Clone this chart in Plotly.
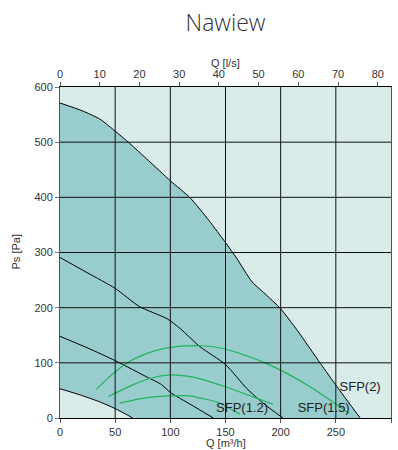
import plotly.graph_objects as go

# ---- data ----
q_max = [0, 20, 36, 50, 63, 80, 100, 118, 135, 150, 160, 174, 187, 200, 215, 236, 251, 272]
p_max = [571, 557, 542, 520, 498, 467, 430, 399, 358, 318, 290, 247, 223, 198, 159, 99, 57, 0]

q_mid = [0, 25, 50, 72, 97, 109, 127, 150, 169, 184, 202]
p_mid = [291, 263, 235, 202, 180, 162, 129, 97, 54, 27, 0]

q_low = [0, 25, 50, 80, 91, 101, 118, 139]
p_low = [148, 127, 104, 73, 62, 45, 25, 0]

q_min = [0, 18, 35, 50, 66]
p_min = [53, 42, 30, 17, 0]

q_sfp2 = [33, 45, 60, 75, 97, 127, 148, 187, 224, 251, 262]
p_sfp2 = [52, 75, 99, 114, 127, 131, 126, 99, 60, 24, 8]

q_sfp15 = [44, 66, 82, 100, 118, 127, 148, 178, 193]
p_sfp15 = [39, 60, 72, 78, 75, 71, 58, 36, 25]

q_sfp12 = [54, 79, 102, 118, 127, 142, 163]
p_sfp12 = [27, 37, 40, 40, 36, 29, 7]

sfp_labels = ["SFP(2)", "SFP(1.5)", "SFP(1.2)"]
sfp_label_q = [272, 239, 165]
sfp_label_p = [55, 16, 16]

x_grid = [50, 100, 150, 200, 250]
y_grid = [100, 200, 300, 400, 500]
x_ticks = [0, 50, 100, 150, 200, 250, 300]
y_ticks = [0, 100, 200, 300, 400, 500, 600]
top_ticks = [0, 10, 20, 30, 40, 50, 60, 70, 80]

X_MAX = 300
Y_MAX = 600

# ---- style ----
LIGHT = "#d9ecea"
DARK = "#99cccc"
GREEN = "#1db35e"
TXT = "#333333"
FONT = "Arial, Liberation Sans, sans-serif"

fig = go.Figure()

fig.add_trace(go.Scatter(x=q_max, y=p_max, mode="lines", fill="tozeroy",
                         fillcolor=DARK, line=dict(color="black", width=1, shape="spline", smoothing=0.6),
                         hoverinfo="skip", showlegend=False))
fig.add_trace(go.Scatter(x=q_min, y=p_min, mode="lines", fill="tozeroy",
                         fillcolor=LIGHT, line=dict(color="black", width=1, shape="spline", smoothing=0.6),
                         hoverinfo="skip", showlegend=False))
for qq, pp in [(q_mid, p_mid), (q_low, p_low)]:
    fig.add_trace(go.Scatter(x=qq, y=pp, mode="lines",
                             line=dict(color="black", width=1, shape="spline", smoothing=0.6),
                             hoverinfo="skip", showlegend=False))
for qq, pp in [(q_sfp2, p_sfp2), (q_sfp15, p_sfp15), (q_sfp12, p_sfp12)]:
    fig.add_trace(go.Scatter(x=qq, y=pp, mode="lines",
                             line=dict(color=GREEN, width=1.2, shape="spline", smoothing=0.8),
                             hoverinfo="skip", showlegend=False))

fig.add_trace(go.Scatter(x=sfp_label_q, y=sfp_label_p, mode="text", text=sfp_labels,
                         textfont=dict(family=FONT, size=13, color="#222222"),
                         textposition="middle center", hoverinfo="skip", showlegend=False))

# invisible trace for top axis (l/s)
fig.add_trace(go.Scatter(x=[0, X_MAX / 3.6], y=[0, 0], xaxis="x2", mode="lines",
                         line=dict(width=0), opacity=0, hoverinfo="skip", showlegend=False))

# gridlines above fills
shapes = []
for gx in x_grid:
    shapes.append(dict(type="line", xref="x", yref="y", x0=gx, x1=gx, y0=0, y1=Y_MAX,
                       line=dict(color="#111111", width=1), layer="above"))
for gy in y_grid:
    shapes.append(dict(type="line", xref="x", yref="y", x0=0, x1=X_MAX, y0=gy, y1=gy,
                       line=dict(color="#111111", width=1), layer="above"))

fig.update_layout(
    width=398, height=450,
    margin=dict(l=60, r=7, t=87, b=32),
    paper_bgcolor="white",
    plot_bgcolor=LIGHT,
    shapes=shapes,
    title=dict(text="Nawiew", x=0.5, xref="paper", xanchor="center", y=1 - 23 / 450, yanchor="middle",
               font=dict(family="Open Sans, sans-serif", size=23, color=TXT, weight=300)),
    xaxis=dict(range=[0, X_MAX], tickvals=x_ticks, ticks="outside", ticklen=4, tickcolor="#555",
               showgrid=False, zeroline=False, showline=True, linecolor="black", linewidth=1,
               tickfont=dict(family=FONT, size=11, color=TXT), layer="above traces"),
    xaxis2=dict(range=[0, X_MAX / 3.6], overlaying="x", side="top", tickvals=top_ticks,
                ticks="outside", ticklen=4, tickcolor="#555", showgrid=False, zeroline=False,
                showline=True, linecolor="black", linewidth=1,
                tickfont=dict(family=FONT, size=11, color=TXT)),
    yaxis=dict(range=[0, Y_MAX], tickvals=y_ticks, ticks="outside", ticklen=4, tickcolor="#777",
               showgrid=False, zeroline=False, showline=True, mirror=True, linecolor="#555", linewidth=1,
               tickfont=dict(family=FONT, size=11, color=TXT), layer="above traces"),
    annotations=[
        dict(text="Q [l/s]", xref="paper", yref="paper", x=0.5, y=1, yanchor="middle", yshift=24,
             showarrow=False, font=dict(family=FONT, size=11, color=TXT)),
        dict(text="Q [m³/h]", xref="paper", yref="paper", x=0.5, y=0, yanchor="middle", yshift=-25,
             showarrow=False, font=dict(family=FONT, size=11, color=TXT)),
        dict(text="Ps [Pa]", xref="paper", yref="paper", x=0, y=0.5, xanchor="center", xshift=-45,
             textangle=-90, showarrow=False, font=dict(family=FONT, size=11, color=TXT)),
    ],
)

fig.write_html("out.html", config={"displayModeBar": False},
               post_script="document.body.style.margin='0';")
